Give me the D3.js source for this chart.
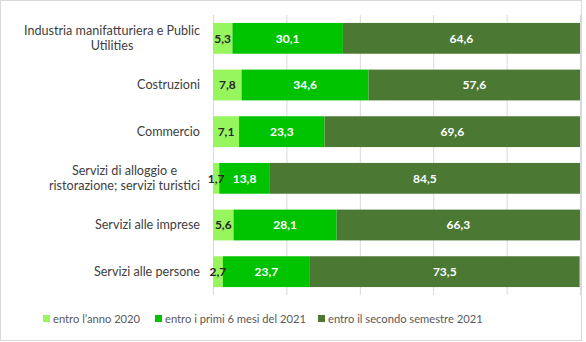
<!DOCTYPE html>
<html>
<head>
<meta charset="utf-8">
<script src="https://cdn.jsdelivr.net/npm/d3@7"></script>
<style>
  body { margin: 0; background: #fff; }
  #chart { width: 586px; height: 342px; }
</style>
</head>
<body>
<div id="chart"></div>
<script>
const categories = [
    ["Industria manifatturiera e Public", "Utilities"],
    ["Costruzioni"],
    ["Commercio"],
    ["Servizi di alloggio e", "ristorazione; servizi turistici"],
    ["Servizi alle imprese"],
    ["Servizi alle persone"]
];
const entro2020 = [5.3, 7.8, 7.1, 1.7, 5.6, 2.7];
const primiMesi2021 = [30.1, 34.6, 23.3, 13.8, 28.1, 23.7];
const secondoSem2021 = [64.6, 57.6, 69.6, 84.5, 66.3, 73.5];
const seriesNames = ["entro l\u2019anno 2020", "entro i primi 6 mesi del 2021", "entro il secondo semestre 2021"];
const xTicks = [0, 20, 40, 60, 80, 100];

const colors = ["#97f65e", "#00c300", "#4b7832"];
const labelColors = ["#262626", "#ffffff", "#ffffff"];
const font = "Lato, 'Open Sans', sans-serif";

const width = 586, height = 342;
const margin = { top: 15, right: 6, bottom: 47, left: 213 };

const svg = d3.select("#chart").append("svg")
    .attr("width", width)
    .attr("height", height)
    .attr("font-family", font);

svg.append("rect")
    .attr("x", 0.5).attr("y", 0.5)
    .attr("width", 581).attr("height", 340)
    .attr("fill", "#fff")
    .attr("stroke", "#d9d9d9");

const x = d3.scaleLinear().domain([0, 100]).range([margin.left, width - margin.right]);
const y = d3.scaleBand()
    .domain(categories.map((d, i) => i))
    .range([margin.top, height - margin.bottom])
    .paddingInner(0.34)
    .paddingOuter(0.17);

// gridlines
svg.append("g")
    .selectAll("line")
    .data(xTicks)
    .join("line")
    .attr("x1", d => x(d) + 0.5).attr("x2", d => x(d) + 0.5)
    .attr("y1", margin.top).attr("y2", height - margin.bottom)
    .attr("stroke", "#d9d9d9");

const rows = categories.map((c, i) => ({ i, values: [entro2020[i], primiMesi2021[i], secondoSem2021[i]] }));
const stacked = d3.stack().keys([0, 1, 2]).value((d, k) => d.values[k])(rows);

svg.append("g")
    .selectAll("g")
    .data(stacked)
    .join("g")
    .attr("fill", (d, k) => colors[k])
    .selectAll("rect")
    .data(d => d)
    .join("rect")
    .attr("x", d => x(d[0]))
    .attr("width", d => x(d[1]) - x(d[0]))
    .attr("y", d => y(d.data.i))
    .attr("height", y.bandwidth());

// value labels, drawn after all bars so small ones stay visible
svg.append("g")
    .selectAll("text")
    .data(stacked.flatMap((s, k) => s.map(p => ({ p, k }))))
    .join("text")
    .attr("x", d => (x(d.p[0]) + x(d.p[1])) / 2)
    .attr("y", d => y(d.p.data.i) + y.bandwidth() / 2)
    .attr("dy", "0.35em")
    .attr("text-anchor", "middle")
    .attr("font-size", 12)
    .attr("font-weight", "bold")
    .attr("fill", d => labelColors[d.k])
    .text(d => d3.format(".1f")(d.p[1] - d.p[0]).replace(".", ","));

// category labels: wrapped lines are centred on the widest line, block right-aligned
const labelRight = margin.left - 13;
const catLabels = svg.append("g")
    .selectAll("text")
    .data(categories)
    .join("text")
    .attr("y", (d, i) => y(i) + y.bandwidth() / 2 - (d.length - 1) * 7.5)
    .attr("font-size", 12.6)
    .attr("fill", "#404040");

catLabels.selectAll("tspan")
    .data(d => d)
    .join("tspan")
    .attr("dy", (d, j) => j === 0 ? "0.35em" : 15)
    .text(d => d);

catLabels.each(function () {
    const spans = d3.select(this).selectAll("tspan");
    const widest = d3.max(spans.nodes(), n => n.getComputedTextLength());
    spans
        .attr("text-anchor", "middle")
        .attr("x", labelRight - widest / 2);
});

// legend
const legendX = [43, 155, 318];
const legend = svg.append("g")
    .selectAll("g")
    .data(seriesNames)
    .join("g")
    .attr("transform", (d, k) => `translate(${legendX[k]}, 319)`);

legend.append("rect")
    .attr("x", 0).attr("y", -4)
    .attr("width", 7).attr("height", 7)
    .attr("fill", (d, k) => colors[k]);

legend.append("text")
    .attr("x", 10)
    .attr("dy", "0.35em")
    .attr("font-size", 11.2)
    .attr("fill", "#595959")
    .text(d => d);
</script>
</body>
</html>
